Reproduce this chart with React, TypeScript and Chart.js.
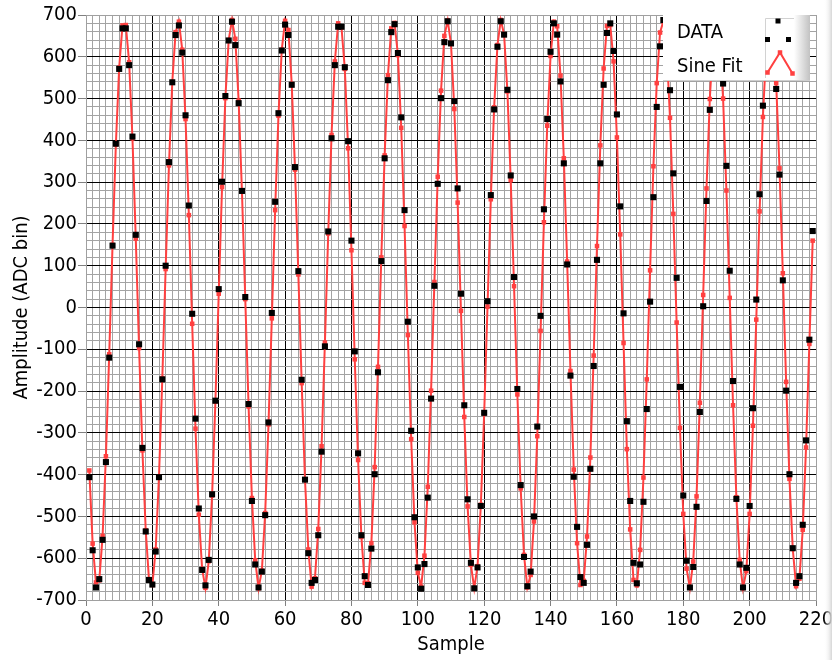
import React, { useEffect, useRef } from "react";
import { Chart, registerables } from "chart.js";

Chart.register(...registerables);

// Sample numbers start at 1 (one value per sample)
const FIRST_SAMPLE = 1;

// Black squares: measured ADC samples
const dataValues: number[] = [
  -406, -581, -670, -650, -556, -370, -120, 148, 392, 571,
  668, 668, 580, 409, 174, -88, -336, -536, -652, -663,
  -584, -406, -172, 100, 348, 539, 652, 675, 610, 460,
  244, -15, -266, -481, -628, -665, -604, -447, -223, 44,
  301, 506, 639, 684, 628, 489, 279, 25, -231, -463,
  -615, -670, -632, -497, -275, -13, 253, 465, 615, 677,
  652, 533, 336, 87, -173, -412, -588, -659, -652, -545,
  -345, -93, 182, 405, 580, 672, 672, 575, 398, 160,
  -105, -349, -545, -643, -664, -577, -399, -155, 111, 357,
  544, 659, 678, 609, 455, 233, -34, -295, -502, -622,
  -673, -614, -455, -218, 52, 296, 501, 635, 685, 632,
  494, 285, 33, -234, -459, -611, -672, -622, -475, -252,
  15, 269, 474, 624, 685, 653, 521, 316, 73, -195,
  -425, -597, -667, -632, -500, -285, -20, 235, 451, 612,
  680, 653, 541, 345, 103, -163, -405, -525, -645, -659,
  -568, -386, -140, 114, 345, 533, 657, 680, 614, 462,
  242, -14, -272, -463, -611, -660, -615, -465, -243, 14,
  264, 480, 625, 688, 612, 520, 321, 71, -190, -450,
  -606, -670, -621, -477, -250, 3, 255, 473, 628, 684,
  630, 536, 339, 88, -176, -458, -615, -670, -623, -475,
  -241, 19, 271, 483, 625, 680, 640, 523, 318, 65,
  -199, -399, -576, -659, -643, -520, -318, -77, 183,
];

// Red line: sine fit evaluated at each sample
const fitValues: number[] = [
  -390, -565, -658, -653, -547, -356, -112, 150, 390, 574,
  675, 676, 587, 405, 165, -97, -342, -533, -653, -664,
  -579, -404, -169, 92, 340, 539, 659, 684, 617, 451,
  221, -39, -290, -496, -626, -671, -607, -450, -225, 33,
  288, 501, 640, 688, 643, 495, 277, 20, -237, -456,
  -605, -672, -630, -492, -280, -26, 233, 459, 617, 686,
  664, 535, 330, 79, -181, -412, -579, -668, -648, -530,
  -332, -84, 177, 413, 589, 680, 670, 571, 381, 137,
  -124, -365, -549, -659, -660, -564, -382, -142, 120, 364,
  556, 668, 681, 604, 430, 195, -66, -315, -514, -635,
  -668, -594, -429, -199, 61, 313, 519, 650, 687, 631,
  475, 251, -8, -262, -476, -616, -672, -619, -472, -254,
  2, 259, 479, 628, 688, 654, 517, 305, 51, -208,
  -433, -592, -670, -640, -512, -308, -56, 204, 435, 602,
  684, 673, 555, 357, 110, -152, -388, -564, -664, -654,
  -548, -359, -115, 147, 388, 572, 674, 676, 589, 407,
  175, -85, -339, -531, -652, -665, -580, -407, -172, 89,
  338, 537, 658, 685, 619, 454, 224, -36, -288, -494,
  -625, -671, -608, -452, -228, 30, 285, 499, 639, 688,
  644, 500, 280, 23, -234, -454, -604, -672, -631, -494,
  -283, -29, 230, 456, 615, 686, 665, 537, 333, 82,
  -178, -410, -578, -667, -649, -532, -335, -87, 160,
];

// Axis ranges and labelled (major) ticks
const X_MIN = 0;
const X_MAX = 220;
const Y_MIN = -700;
const Y_MAX = 700;
const xMajorTicks = [0, 20, 40, 60, 80, 100, 120, 140, 160, 180, 200, 220];
const yMajorTicks = [-700, -600, -500, -400, -300, -200, -100, 0, 100, 200, 300, 400, 500, 600, 700];
const X_MINOR_STEP = 2;
const Y_MINOR_STEP = 20;

const legendItems = ["DATA", "Sine Fit"];

const FONT = "'DejaVu Sans Condensed', 'Liberation Sans', Arial, sans-serif";
const RED = "#ff4040";
const MAJOR = "#000000";
const MINOR = "#a3a3a3";
const EDGE = "#a0a0a0";

const gridColorFor = (edges: number[], majors: number[]) => (ctx: any) => {
  const v = ctx.tick ? Math.round(ctx.tick.value) : NaN;
  if (edges.includes(v)) return EDGE;
  return majors.includes(v) ? MAJOR : MINOR;
};
const tickColorFor = (majors: number[]) => (ctx: any) => {
  const v = ctx.tick ? Math.round(ctx.tick.value) : NaN;
  return majors.includes(v) ? "#808080" : "rgba(0,0,0,0)";
};

const lvLegend = {
  id: "lvLegend",
  afterDatasetsDraw(chart: any) {
    const ctx = chart.ctx as CanvasRenderingContext2D;
    const { top, right } = chart.chartArea;
    const bx = right - 153;
    const by = top;
    const bw = 147;
    const bh = 65;
    ctx.save();
    ctx.fillStyle = "#ffffff";
    ctx.fillRect(bx, by, bw, bh);
    const g = ctx.createLinearGradient(bx + 131, 0, bx + bw, 0);
    g.addColorStop(0, "#ffffff");
    g.addColorStop(1, "#c2c2c2");
    ctx.fillStyle = g;
    ctx.fillRect(bx + 131, by, bw - 131, bh);
    ctx.strokeStyle = "#d2d2d2";
    ctx.lineWidth = 1;
    ctx.beginPath();
    ctx.moveTo(bx + 102.5, by + 63);
    ctx.lineTo(bx + 102.5, by + 3.5);
    ctx.lineTo(bx + 131, by + 3.5);
    ctx.stroke();
    ctx.strokeStyle = "#cfcfcf";
    ctx.beginPath();
    ctx.moveTo(bx, by + bh + 0.5);
    ctx.lineTo(bx + bw, by + bh + 0.5);
    ctx.stroke();

    ctx.fillStyle = "#000";
    ctx.font = `20px ${FONT}`;
    ctx.textBaseline = "alphabetic";
    ctx.textAlign = "left";
    ctx.fillText(legendItems[0], bx + 14, by + 23);
    ctx.fillText(legendItems[1], bx + 14, by + 56.5);

    // DATA icon: three black squares
    const sq = (cx: number, cy: number, s: number) => ctx.fillRect(cx - s / 2, cy - s / 2, s, s);
    ctx.fillStyle = "#000";
    sq(bx + 115, by + 6, 5);
    sq(bx + 104.5, by + 24.5, 5);
    sq(bx + 125.5, by + 24.5, 5);

    // Sine Fit icon: red polyline with square markers
    ctx.strokeStyle = RED;
    ctx.lineWidth = 2;
    ctx.beginPath();
    ctx.moveTo(bx + 104.5, by + 57.5);
    ctx.lineTo(bx + 117, by + 37.5);
    ctx.lineTo(bx + 129.5, by + 58.5);
    ctx.stroke();
    ctx.fillStyle = RED;
    sq(bx + 104.5, by + 57.5, 4.5);
    sq(bx + 117, by + 37.5, 4.5);
    sq(bx + 129.5, by + 58.5, 4.5);
    ctx.restore();
  },
  afterDraw(chart: any) {
    const ctx = chart.ctx as CanvasRenderingContext2D;
    const w = chart.width;
    const h = chart.height;
    ctx.save();
    const g = ctx.createLinearGradient(w - 8, 0, w, 0);
    g.addColorStop(0, "rgba(255,255,255,0)");
    g.addColorStop(1, "#d6d6d6");
    ctx.fillStyle = g;
    ctx.fillRect(w - 8, 0, 8, h);
    ctx.restore();
  },
};

export default function App() {
  const canvasRef = useRef<HTMLCanvasElement | null>(null);

  useEffect(() => {
    document.body.style.margin = "0";
    const canvas = canvasRef.current;
    if (!canvas) return;

    const dataPoints = dataValues.map((v, i) => ({ x: FIRST_SAMPLE + i, y: v }));
    const fitPoints = fitValues.map((v, i) => ({ x: FIRST_SAMPLE + i, y: v }));

    const chart = new Chart(canvas, {
      type: "line",
      data: {
        datasets: [
          {
            label: legendItems[0],
            data: dataPoints,
            showLine: false,
            pointStyle: "rect",
            pointRadius: 4.3,
            pointBorderWidth: 0,
            pointBackgroundColor: "#000",
            pointBorderColor: "#000",
            borderColor: "#000",
            backgroundColor: "#000",
          },
          {
            label: legendItems[1],
            data: fitPoints,
            borderColor: RED,
            borderWidth: 2,
            tension: 0,
            pointStyle: "rect",
            pointRadius: 3.2,
            pointBorderWidth: 0,
            pointBackgroundColor: RED,
            pointBorderColor: RED,
            backgroundColor: RED,
            fill: false,
          },
        ],
      },
      options: {
        responsive: false,
        animation: false,
        events: [],
        layout: { padding: { top: 15, right: 16, left: 0, bottom: 0 } },
        plugins: {
          legend: { display: false },
          tooltip: { enabled: false },
        },
        scales: {
          x: {
            type: "linear",
            min: X_MIN,
            max: X_MAX,
            ticks: {
              stepSize: X_MINOR_STEP,
              autoSkip: false,
              maxRotation: 0,
              padding: 2,
              color: "#000",
              font: { family: FONT, size: 20 },
              callback: (v: any) => (xMajorTicks.includes(Math.round(Number(v))) ? String(Math.round(Number(v))) : ""),
            },
            grid: {
              color: gridColorFor([X_MIN, X_MAX], xMajorTicks),
              lineWidth: 1,
              tickLength: 6,
              tickColor: tickColorFor(xMajorTicks),
            },
            border: { display: true, color: EDGE, width: 1 },
            title: {
              display: true,
              text: "Sample",
              color: "#000",
              font: { family: FONT, size: 20 },
              padding: { top: 0, bottom: 3 },
            },
            afterFit: (s: any) => {
              s.height = 60;
              s.paddingLeft = 0;
              s.paddingRight = 0;
            },
          },
          y: {
            type: "linear",
            min: Y_MIN,
            max: Y_MAX,
            ticks: {
              stepSize: Y_MINOR_STEP,
              autoSkip: false,
              padding: 1,
              color: "#000",
              font: { family: FONT, size: 20 },
              callback: (v: any) => (yMajorTicks.includes(Math.round(Number(v))) ? String(Math.round(Number(v))) : ""),
            },
            grid: {
              color: gridColorFor([Y_MIN, Y_MAX], yMajorTicks),
              lineWidth: 1,
              tickLength: 8,
              tickColor: tickColorFor(yMajorTicks),
            },
            border: { display: true, color: EDGE, width: 1 },
            title: {
              display: true,
              text: "Amplitude (ADC bin)",
              color: "#000",
              font: { family: FONT, size: 20 },
              padding: { top: 10, bottom: 0 },
            },
            afterFit: (s: any) => {
              s.width = 86;
              s.paddingTop = 0;
              s.paddingBottom = 0;
            },
          },
        },
      },
      plugins: [lvLegend],
    });

    return () => chart.destroy();
  }, []);

  return (
    <div style={{ width: 832, height: 660, background: "#fff" }}>
      <canvas ref={canvasRef} width={832} height={660} style={{ display: "block" }} />
    </div>
  );
}
